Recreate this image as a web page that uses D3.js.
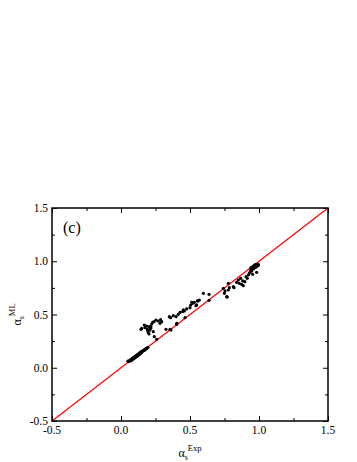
<!DOCTYPE html>
<html><head><meta charset="utf-8">
<script src="https://cdn.jsdelivr.net/npm/d3@7"></script>
<style>html,body{margin:0;padding:0;background:#fff;} svg{display:block;} svg text{font-family:"Liberation Serif","Times New Roman",Times,serif;}</style>
</head><body>
<script>
// ---- data ----
const xDomain = [-0.5, 1.5];
const yDomain = [-0.5, 1.5];
const majorTicks = [-0.5, 0.0, 0.5, 1.0, 1.5];
const minorTicks = [-0.25, 0.25, 0.75, 1.25];
const tickLabels = ["-0.5", "0.0", "0.5", "1.0", "1.5"];
const panelLabel = "(c)";

// dense cluster near the diagonal (low values)
const clusterLowX = [0.05,0.055,0.06,0.065,0.07,0.072,0.075,0.078,0.08,0.083,0.085,0.088,0.09,0.093,0.095,0.098,0.1,0.103,0.105,0.108,0.11,0.113,0.115,0.118,0.12,0.123,0.125,0.128,0.13,0.133,0.135,0.138,0.14,0.143,0.145,0.148,0.15,0.155,0.16,0.165,0.17,0.175,0.18,0.185,0.19,0.195];
const clusterLowY = [0.062,0.058,0.068,0.063,0.075,0.066,0.080,0.072,0.085,0.077,0.090,0.082,0.095,0.087,0.100,0.091,0.105,0.097,0.110,0.101,0.114,0.106,0.119,0.111,0.124,0.116,0.129,0.121,0.134,0.126,0.139,0.131,0.144,0.137,0.150,0.142,0.155,0.152,0.162,0.160,0.170,0.168,0.180,0.178,0.188,0.190];

// middle band of overestimated points
const clusterMidX = [0.145,0.150,0.169,0.174,0.186,0.191,0.193,0.198,0.203,0.205,0.210,0.215,0.217,0.222,0.229,0.234,0.239,0.241,0.254,0.259,0.270,0.283,0.287,0.295,0.326,0.350,0.355,0.360,0.362,0.379,0.399,0.403,0.404,0.415,0.428,0.447,0.452,0.459,0.464,0.476,0.500,0.505,0.512,0.519,0.531,0.543,0.548,0.553,0.560,0.568,0.597,0.638,0.638];
const clusterMidY = [0.361,0.370,0.401,0.376,0.392,0.364,0.349,0.330,0.317,0.386,0.354,0.370,0.386,0.411,0.427,0.339,0.433,0.292,0.448,0.267,0.439,0.417,0.451,0.433,0.361,0.480,0.361,0.470,0.354,0.489,0.480,0.408,0.417,0.502,0.520,0.527,0.543,0.533,0.470,0.552,0.564,0.589,0.615,0.605,0.614,0.583,0.590,0.627,0.628,0.636,0.699,0.689,0.633];

// high cluster
const clusterHighX = [0.742,0.749,0.754,0.766,0.770,0.778,0.778,0.785,0.814,0.819,0.838,0.850,0.857,0.867,0.874,0.882,0.886,0.898,0.906,0.915,0.923,0.930,0.935,0.940,0.942,0.947,0.954,0.954,0.959,0.966,0.971,0.978,0.983,0.983,0.988,0.995,0.995];
const clusterHighY = [0.746,0.699,0.721,0.667,0.664,0.730,0.793,0.752,0.761,0.752,0.802,0.824,0.793,0.840,0.783,0.815,0.771,0.808,0.855,0.840,0.871,0.887,0.896,0.918,0.940,0.909,0.949,0.877,0.927,0.965,0.940,0.971,0.949,0.896,0.965,0.971,0.960];

const pointsX = clusterLowX.concat(clusterMidX, clusterHighX);
const pointsY = clusterLowY.concat(clusterMidY, clusterHighY);
const points = pointsX.map((x, i) => ({x: x, y: pointsY[i]}));

// ---- drawing ----
const W = 357, H = 462;
const m = {left: 52, right: 29, top: 208, bottom: 41};
const svg = d3.select("body").append("svg").attr("width", W).attr("height", H);

const x = d3.scaleLinear().domain(xDomain).range([m.left, W - m.right]);
const y = d3.scaleLinear().domain(yDomain).range([H - m.bottom, m.top]);

// diagonal y = x
svg.append("line")
  .attr("x1", x(xDomain[0])).attr("y1", y(xDomain[0]))
  .attr("x2", x(xDomain[1])).attr("y2", y(xDomain[1]))
  .attr("stroke", "#ff0000").attr("stroke-width", 1.2);

// points
svg.append("g").selectAll("circle").data(points).join("circle")
  .attr("cx", d => x(d.x)).attr("cy", d => y(d.y))
  .attr("r", 1.6).attr("fill", "#000");

// axes with inward ticks
function styleAxis(g) {
  g.select(".domain").remove();
  g.selectAll("line").attr("stroke", "#000").attr("stroke-width", 1);
  g.selectAll("text").remove();
}
const yBottom = y.range()[0], yTop = y.range()[1];
svg.append("g").attr("transform", `translate(0,${yBottom})`)
  .call(d3.axisBottom(x).tickValues(majorTicks).tickSize(-5)).call(styleAxis);
svg.append("g").attr("transform", `translate(0,${yBottom})`)
  .call(d3.axisBottom(x).tickValues(minorTicks).tickSize(-3)).call(styleAxis);
svg.append("g").attr("transform", `translate(0,${yTop})`)
  .call(d3.axisTop(x).tickValues(majorTicks).tickSize(-5)).call(styleAxis);
svg.append("g").attr("transform", `translate(0,${yTop})`)
  .call(d3.axisTop(x).tickValues(minorTicks).tickSize(-3)).call(styleAxis);
svg.append("g").attr("transform", `translate(${m.left},0)`)
  .call(d3.axisLeft(y).tickValues(majorTicks).tickSize(-5)).call(styleAxis);
svg.append("g").attr("transform", `translate(${m.left},0)`)
  .call(d3.axisLeft(y).tickValues(minorTicks).tickSize(-3)).call(styleAxis);
svg.append("g").attr("transform", `translate(${W - m.right},0)`)
  .call(d3.axisRight(y).tickValues(majorTicks).tickSize(-5)).call(styleAxis);
svg.append("g").attr("transform", `translate(${W - m.right},0)`)
  .call(d3.axisRight(y).tickValues(minorTicks).tickSize(-3)).call(styleAxis);

// frame
svg.append("rect")
  .attr("x", m.left).attr("y", m.top)
  .attr("width", W - m.left - m.right).attr("height", H - m.top - m.bottom)
  .attr("fill", "none").attr("stroke", "#000").attr("stroke-width", 1.5);

// tick labels
svg.append("g").selectAll("text").data(majorTicks).join("text")
  .attr("x", d => x(d)).attr("y", yBottom + 13)
  .attr("text-anchor", "middle").attr("font-size", 11.5)
  .text((d, i) => tickLabels[i]);
svg.append("g").selectAll("text").data(majorTicks).join("text")
  .attr("x", m.left - 4).attr("y", d => y(d)).attr("dy", "0.35em")
  .attr("text-anchor", "end").attr("font-size", 11.5)
  .text((d, i) => tickLabels[i]);

// panel label
svg.append("text").attr("x", 63).attr("y", 233)
  .attr("font-size", 16).text(panelLabel);

// axis titles
const xt = svg.append("text").attr("x", (m.left + W - m.right) / 2).attr("y", 457)
  .attr("text-anchor", "middle").attr("font-size", 12);
xt.append("tspan").text("α");
xt.append("tspan").attr("font-size", 8).attr("dy", 3).text("s");
xt.append("tspan").attr("font-size", 8.5).attr("dy", -9).text("Exp");

const yt = svg.append("text")
  .attr("transform", `translate(21,${(m.top + H - m.bottom) / 2}) rotate(-90)`)
  .attr("text-anchor", "middle").attr("font-size", 12);
yt.append("tspan").text("α");
yt.append("tspan").attr("font-size", 8).attr("dy", 3).text("s");
yt.append("tspan").attr("font-size", 8.5).attr("dy", -9).text("ML");
</script>
</body></html>
